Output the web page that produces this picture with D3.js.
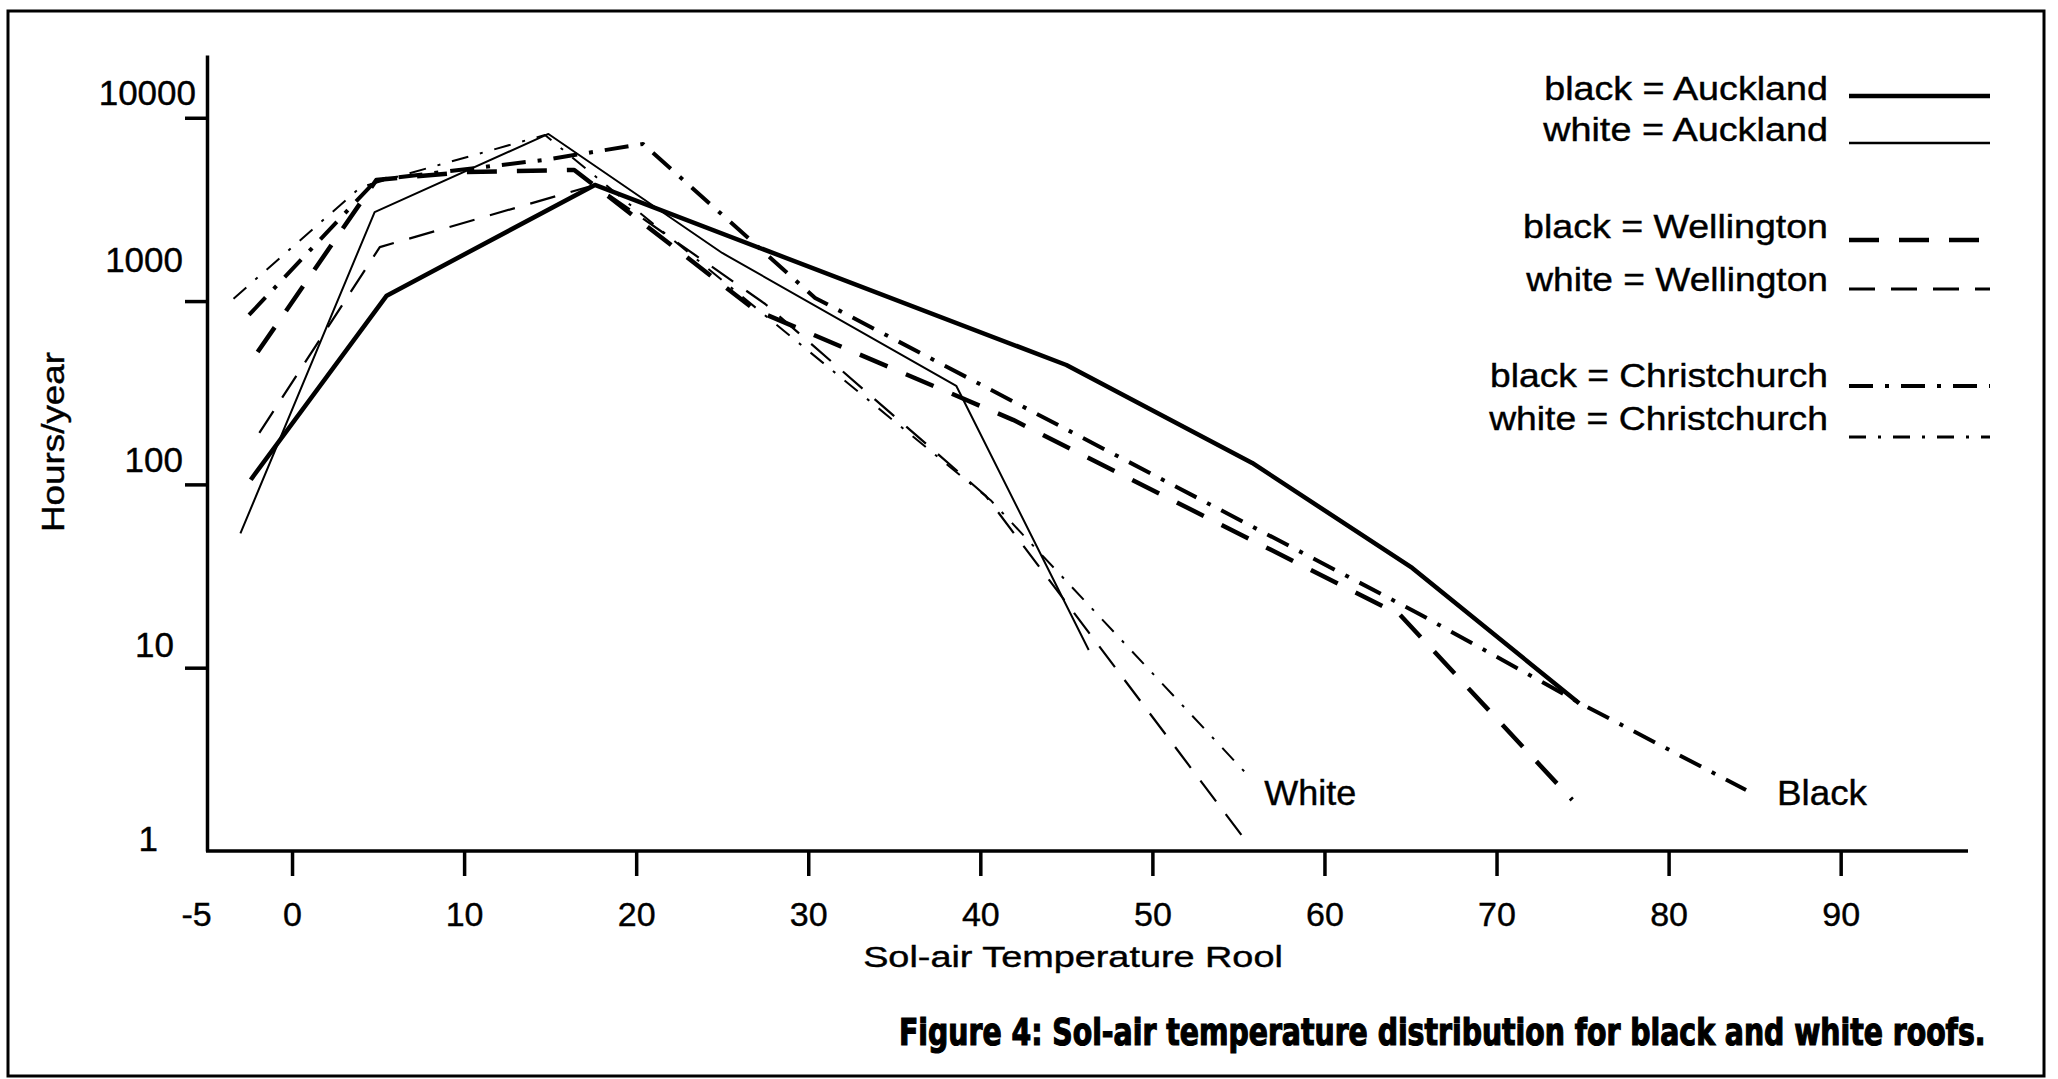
<!DOCTYPE html>
<html><head><meta charset="utf-8">
<script src="https://cdn.jsdelivr.net/npm/d3@7"></script>
<style>html,body{margin:0;padding:0;background:#fff;} svg{display:block;}</style>
</head><body><svg id="chart" width="2058" height="1079"></svg>
<script>
// ---------- data ----------
const xTickValues = [-5, 0, 10, 20, 30, 40, 50, 60, 70, 80, 90];
const xTickLabels = ["-5", "0", "10", "20", "30", "40", "50", "60", "70", "80", "90"];
const yTickValues = [1, 10, 100, 1000, 10000];
const yTickLabels = ["1", "10", "100", "1000", "10000"];
const seriesNames = ["black = Auckland", "white = Auckland", "black = Wellington",
                     "white = Wellington", "black = Christchurch", "white = Christchurch"];
// [temperature, hours/year]
const blackAuckland = [[-2.4, 106], [5.5, 1070], [17.6, 4300], [45.0, 448], [55.8, 131], [65.1, 35], [74.8, 6.4]];
const whiteAuckland = [[-3.0, 54], [4.8, 3060], [14.9, 8160], [25.0, 1830], [38.6, 345], [46.3, 12.5]];
const blackWellington = [[-2.0, 527], [4.9, 4580], [10.1, 5060], [16.4, 5190], [26.9, 895], [41.9, 225], [64.4, 19.4], [74.4, 1.9]];
const whiteWellington = [[-1.9, 191], [5.1, 1970], [17.6, 4300], [27.5, 964], [40.3, 87], [55.3, 1.18]];
const blackChristchurch = [[-2.5, 840], [4.9, 4580], [14.7, 5900], [20.4, 7200], [30.4, 1040], [65.4, 19.9], [75.0, 6.3], [84.5, 2.15]];
const whiteChristchurch = [[-3.4, 1030], [4.0, 4190], [14.7, 8050], [40.6, 82], [55.7, 2.5]];
const endLabels = ["White", "Black"];
const xTitle = "Sol-air Temperature Rool";
const yTitle = "Hours/year";
const caption = "Figure 4: Sol-air temperature distribution for black and white roofs.";

// ---------- layout ----------
const svg = d3.select("#chart");
const FONT = "'Liberation Sans', Arial, Helvetica, sans-serif";
const x = d3.scaleLinear().domain([-5, 97.4]).range([206, 1968]);
const y = d3.scaleLog().domain([1, 22000]).range([851, 55]);

// outer frame
svg.append("rect").attr("x", 8).attr("y", 11).attr("width", 2036).attr("height", 1065)
  .attr("fill", "none").attr("stroke", "#000").attr("stroke-width", 3);

const series = [
  {data: blackAuckland, w: 4.5, lw: 4.5, dash: null},
  {data: whiteAuckland, w: 2, lw: 2.5, dash: null},
  {data: blackWellington, w: 4.5, lw: 4.5, dash: "30,20"},
  {data: whiteWellington, w: 2.2, lw: 3, dash: "26,16"},
  {data: blackChristchurch, w: 4, lw: 4, dash: "24,12,4,12"},
  {data: whiteChristchurch, w: 2, lw: 3, dash: "17,12,3,12"}
];

// axes
const xAxis = d3.axisBottom(x).tickValues(xTickValues)
  .tickFormat((d, i) => xTickLabels[i]).tickSize(25).tickSizeOuter(0).tickPadding(0);
const gx = svg.append("g").attr("transform", `translate(0,${y(1)})`).call(xAxis);
gx.select(".domain").attr("stroke-width", 3.5).attr("d", `M${x(-5)},0H1968`);
gx.selectAll(".tick line").attr("stroke-width", 3.5).attr("display", d => d === -5 ? "none" : null);
gx.selectAll(".tick text").attr("font-family", FONT).attr("font-size", 34)
  .attr("fill", "#000").attr("stroke", "#000").attr("stroke-width", 0.4)
  .attr("y", 75).attr("dy", 0)
  .attr("x", d => d === -5 ? -10 : 0);

const yOffsets = {1: [-49, -1], 10: [-33, -11], 100: [-24, -13], 1000: [-24, -30], 10000: [-11, -13]};
const yAxis = d3.axisLeft(y).tickValues(yTickValues)
  .tickFormat((d, i) => yTickLabels[i]).tickSize(22).tickSizeOuter(0);
const gy = svg.append("g").attr("transform", `translate(${x(-5) + 1},0)`).call(yAxis);
gy.select(".domain").attr("stroke-width", 3.5);
gy.selectAll(".tick line").attr("stroke-width", 3.5).attr("display", d => d === 1 ? "none" : null);
gy.selectAll(".tick text").attr("font-family", FONT).attr("font-size", 35).attr("fill", "#000")
  .attr("stroke", "#000").attr("stroke-width", 0.4)
  .attr("text-anchor", "end").attr("dy", 0)
  .attr("x", d => yOffsets[d][0]).attr("y", d => yOffsets[d][1]);

// helper: draw text and scale it horizontally to a target width
function fitText(sel, targetW) {
  const w = sel.node().getComputedTextLength();
  return w > 0 ? targetW / w : 1;
}

// axis titles
const yt = svg.append("text").attr("text-anchor", "middle").attr("font-family", FONT).attr("font-size", 31)
  .attr("stroke", "#000").attr("stroke-width", 0.4).text(yTitle);
yt.attr("transform", `translate(64,442) rotate(-90) scale(${fitText(yt, 180)},1)`);
const xt = svg.append("text").attr("text-anchor", "middle").attr("font-family", FONT).attr("font-size", 30)
  .attr("stroke", "#000").attr("stroke-width", 0.4).text(xTitle);
xt.attr("transform", `translate(1073,967) scale(${fitText(xt, 420)},1)`);

// lines
const line = d3.line().x(d => x(d[0])).y(d => y(d[1]));
svg.append("g").selectAll("path").data(series).join("path")
  .attr("d", s => line(s.data)).attr("fill", "none").attr("stroke", "#000")
  .attr("stroke-width", s => s.w).attr("stroke-dasharray", s => s.dash)
  .attr("stroke-linejoin", "round");

// end labels
[[endLabels[0], 56.5, 92], [endLabels[1], 86.3, 90]].forEach(([t, xv, w]) => {
  const el = svg.append("text").attr("font-family", FONT).attr("font-size", 35)
    .attr("stroke", "#000").attr("stroke-width", 0.4).text(t);
  el.attr("transform", `translate(${x(xv)},805) scale(${fitText(el, w)},1)`);
});

// legend
const legTextY = [100, 141, 238, 291, 387, 430];
const legLineY = [96, 143, 240, 289, 386, 437];
const legWidths = [284, 285, 305, 302, 338, 339];
const leg = svg.append("g");
seriesNames.forEach((name, i) => {
  const t = leg.append("text").attr("text-anchor", "end")
    .attr("font-family", FONT).attr("font-size", 33)
    .attr("stroke", "#000").attr("stroke-width", 0.4).text(name);
  t.attr("transform", `translate(1828,${legTextY[i]}) scale(${fitText(t, legWidths[i])},1)`);
  leg.append("line").attr("x1", 1849).attr("x2", 1990).attr("y1", legLineY[i]).attr("y2", legLineY[i])
    .attr("stroke", "#000").attr("stroke-width", series[i].lw)
    .attr("stroke-dasharray", series[i].dash);
});

// caption
const cap = svg.append("text")
  .attr("font-family", "'DejaVu Sans Condensed', 'Liberation Sans Narrow', 'DejaVu Sans', sans-serif")
  .attr("font-stretch", "condensed").attr("font-weight", "bold").attr("font-size", 38)
  .attr("stroke", "#000").attr("stroke-width", 1.2).text(caption);
cap.attr("transform", `translate(899,1045) scale(${fitText(cap, 1087)},1)`);
</script></body></html>
